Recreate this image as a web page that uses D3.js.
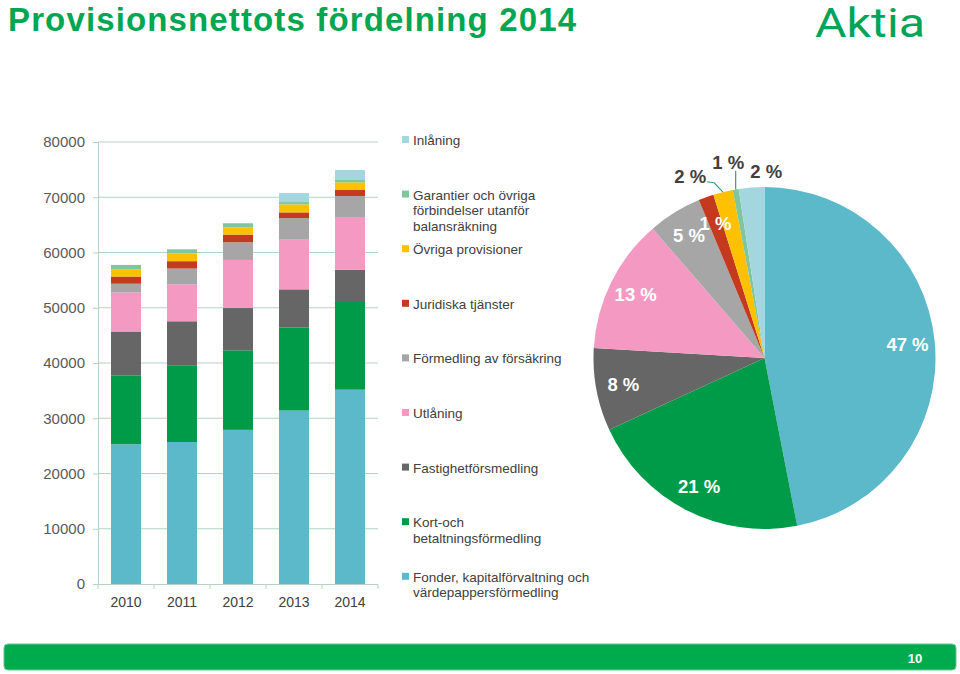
<!DOCTYPE html>
<html>
<head>
<meta charset="utf-8">
<script src="https://cdn.jsdelivr.net/npm/d3@7"></script>
<style>
  html, body { margin: 0; padding: 0; background: #ffffff; }
  svg { display: block; font-family: "Liberation Sans", Arial, Helvetica, sans-serif; }
</style>
</head>
<body>
<svg id="chart" width="960" height="674"></svg>
<script>
// ---------------- DATA ----------------
const years = ["2010", "2011", "2012", "2013", "2014"];

// series in stack order (bottom -> top)
const seriesNames = [
  "Fonder, kapitalförvaltning och\nvärdepappersförmedling",
  "Kort-och\nbetaltningsförmedling",
  "Fastighetförsmedling",
  "Utlåning",
  "Förmedling av försäkring",
  "Juridiska tjänster",
  "Övriga provisioner",
  "Garantier och övriga\nförbindelser utanför\nbalansräkning",
  "Inlåning"
];
const seriesColors = [
  "#5bb9ca", "#009b48", "#666666", "#f49ac2", "#a6a6a6",
  "#c5391f", "#ffc000", "#7fc69f", "#a3d6df"
];

const fonder      = [25300, 25700, 27900, 31400, 35170];
const kort        = [12400, 13900, 14400, 15050, 15870];
const fastighet   = [ 8000,  7950,  7650,  6880,  5850];
const utlaning    = [ 7050,  6650,  8700,  9100,  9540];
const forsakring  = [ 1600,  2900,  3200,  3800,  3800];
const juridiska   = [ 1300,  1330,  1390,  1030,  1080];
const ovriga      = [ 1300,  1400,  1330,  1450,  1390];
const garantier   = [  800,   750,   720,   420,   420];
const inlaning    = [    0,     0,     0,  1630,  1810];

const seriesValues = [fonder, kort, fastighet, utlaning, forsakring,
                      juridiska, ovriga, garantier, inlaning];

const yTicks = [0, 10000, 20000, 30000, 40000, 50000, 60000, 70000, 80000];

const titleText = "Provisionsnettots fördelning 2014";
const logoText = "Aktia";
const pageNumber = "10";

// ---------------- DRAW ----------------
const svg = d3.select("#chart");
const green = "#00a651";
const gridColor = "#b3d3c4";
const textDark = "#404040";

// Title
svg.append("text")
  .attr("x", 8).attr("y", 31)
  .attr("fill", green)
  .attr("font-size", 33)
  .attr("font-weight", "bold")
  .attr("textLength", 568).attr("lengthAdjust", "spacing")
  .text(titleText);

// Logo
svg.append("text")
  .attr("x", 815).attr("y", 37)
  .attr("fill", "#00a459")
  .attr("font-family", "Roboto, Lato, sans-serif")
  .attr("font-size", 40)
  .attr("font-weight", 400)
  .attr("textLength", 110).attr("lengthAdjust", "spacingAndGlyphs")
  .text(logoText);

// ---- Stacked bar chart ----
const table = years.map((y, i) => {
  const row = { year: y };
  seriesNames.forEach((s, k) => row[s] = seriesValues[k][i]);
  return row;
});
const stacked = d3.stack().keys(seriesNames)(table);

const x = d3.scaleBand().domain(years).range([98, 378])
  .paddingInner(0.464).paddingOuter(0.232);
const y = d3.scaleLinear().domain([0, 80000]).range([584, 142]);

// gridlines
svg.append("g").selectAll("line").data(yTicks.slice(1)).join("line")
  .attr("x1", 98).attr("x2", 378)
  .attr("y1", d => y(d)).attr("y2", d => y(d))
  .attr("stroke", gridColor).attr("stroke-width", 1);

// y axis
const yAxis = svg.append("g").attr("transform", "translate(98,0)")
  .call(d3.axisLeft(y).tickValues(yTicks).tickSize(5).tickPadding(8).tickFormat(d3.format("d")));
yAxis.select(".domain").attr("stroke", gridColor);
yAxis.selectAll(".tick line").attr("stroke", gridColor);
yAxis.selectAll(".tick text")
  .attr("fill", "#595959").attr("font-size", 15)
  .attr("font-family", "Liberation Sans, Arial, sans-serif");

// bars
svg.append("g").selectAll("g").data(stacked).join("g")
  .attr("fill", (d, i) => seriesColors[i])
  .selectAll("rect").data(d => d).join("rect")
  .attr("x", d => x(d.data.year))
  .attr("width", x.bandwidth())
  .attr("y", d => y(d[1]))
  .attr("height", d => Math.max(0, y(d[0]) - y(d[1])));

// x axis
const step = x.step();
const bounds = years.map(yr => x(yr) - step * x.paddingInner() / 2);
bounds.push(378);
svg.append("line").attr("x1", 98).attr("x2", 378).attr("y1", 584.5).attr("y2", 584.5)
  .attr("stroke", gridColor);
svg.append("g").selectAll("line").data(bounds).join("line")
  .attr("x1", d => d).attr("x2", d => d).attr("y1", 584.5).attr("y2", 589)
  .attr("stroke", gridColor);
svg.append("g").selectAll("text").data(years).join("text")
  .attr("x", d => x(d) + x.bandwidth() / 2)
  .attr("y", 607)
  .attr("text-anchor", "middle")
  .attr("fill", textDark).attr("font-size", 14)
  .text(d => d);

// ---- Legend ----
const legendOrder = seriesNames.map((s, i) => i).reverse();
const leg = svg.append("g");
legendOrder.forEach((si, j) => {
  const ly = 140 + j * 54.6;
  leg.append("rect").attr("x", 402).attr("y", ly - 4).attr("width", 7).attr("height", 7)
    .attr("fill", seriesColors[si]);
  const t = leg.append("text").attr("x", 413).attr("y", ly + 5)
    .attr("fill", textDark).attr("font-size", 13.5);
  seriesNames[si].split("\n").forEach((line, li) => {
    t.append("tspan").attr("x", 413).attr("dy", li === 0 ? 0 : 15.5).text(line);
  });
});

// ---- Pie (2014) ----
const lastIdx = years.length - 1;
const pieData = seriesValues.map((arr, i) => ({ i, value: arr[lastIdx] }));
const total = d3.sum(pieData, d => d.value);
const cx = 764.5, cy = 358, r = 171;
const arcs = d3.pie().sort(null).value(d => d.value)(pieData);
const arcGen = d3.arc().innerRadius(0).outerRadius(r);
const pg = svg.append("g").attr("transform", `translate(${cx},${cy})`);
pg.selectAll("path").data(arcs).join("path")
  .attr("d", arcGen)
  .attr("fill", d => seriesColors[d.data.i]);

const fmt = v => Math.round(v / total * 100) + " %";
const insideArcs = arcs.filter(a => (a.endAngle - a.startAngle) > 0.2 || a.data.i === 5);
const outsideArcs = arcs.filter(a => !insideArcs.includes(a));

insideArcs.forEach(a => {
  const m = (a.startAngle + a.endAngle) / 2;
  const rr = r * 0.84;
  pg.append("text")
    .attr("x", Math.sin(m) * rr).attr("y", -Math.cos(m) * rr)
    .attr("dy", "0.36em")
    .attr("text-anchor", "middle")
    .attr("fill", "#ffffff").attr("font-size", 18.5).attr("font-weight", "bold")
    .text(fmt(a.data.value));
});

// outside labels with simple horizontal collision avoidance
const outs = outsideArcs.map(a => {
  const m = (a.startAngle + a.endAngle) / 2;
  return {
    a, m,
    ax: Math.sin(m) * r, ay: -Math.cos(m) * r,
    lx: Math.sin(m) * (r + 22), ly: -Math.cos(m) * (r + 22) - 2,
    text: fmt(a.data.value)
  };
}).sort((p, q) => p.lx - q.lx);
const minGap = 38;
for (let it = 0; it < 50; it++) {
  for (let k = 1; k < outs.length; k++) {
    const d = outs[k].lx - outs[k - 1].lx;
    if (d < minGap) {
      const push = (minGap - d) / 2;
      outs[k].lx += push; outs[k - 1].lx -= push;
    }
  }
}
outs.forEach(o => { o.lx -= 5; });
outs.forEach((o, k) => { o.ly += (k % 2 === 1) ? -3 : 8; });

const leaderColor = "#3a9e78";
outs.forEach(o => {
  const w = 30, h = 14;
  const left = o.lx - w / 2, right = o.lx + w / 2, top = o.ly - h / 2, bottom = o.ly + h / 2;
  pg.append("text")
    .attr("x", o.lx).attr("y", o.ly).attr("dy", "0.36em")
    .attr("text-anchor", "middle")
    .attr("fill", textDark).attr("font-size", 18.5).attr("font-weight", "bold")
    .text(o.text);
  const dx = Math.max(left - o.ax, 0, o.ax - right);
  const dy = Math.max(top - o.ay, 0, o.ay - bottom);
  if (Math.hypot(dx, dy) > 12) {
    let pts;
    if (o.ax >= left && o.ax <= right) {
      pts = [[o.ax, bottom + 1], [o.ax, o.ay]];
    } else if (o.ax > right) {
      pts = [[right + 2, o.ly + 5], [right + 9, o.ly + 6], [o.ax, o.ay]];
    } else {
      pts = [[left - 2, o.ly + 5], [left - 9, o.ly + 6], [o.ax, o.ay]];
    }
    pg.append("path").attr("d", d3.line()(pts))
      .attr("fill", "none").attr("stroke", leaderColor).attr("stroke-width", 1.2);
  }
});

// ---- Footer ----
svg.append("rect").attr("x", 4).attr("y", 644).attr("width", 952).attr("height", 26)
  .attr("rx", 4).attr("fill", "#00ab4e").attr("stroke", "#6cc596").attr("stroke-width", 1);
svg.append("text").attr("x", 915).attr("y", 662.5).attr("text-anchor", "middle")
  .attr("fill", "#ffffff").attr("font-size", 13).attr("font-weight", "bold")
  .text(pageNumber);
</script>
</body>
</html>
